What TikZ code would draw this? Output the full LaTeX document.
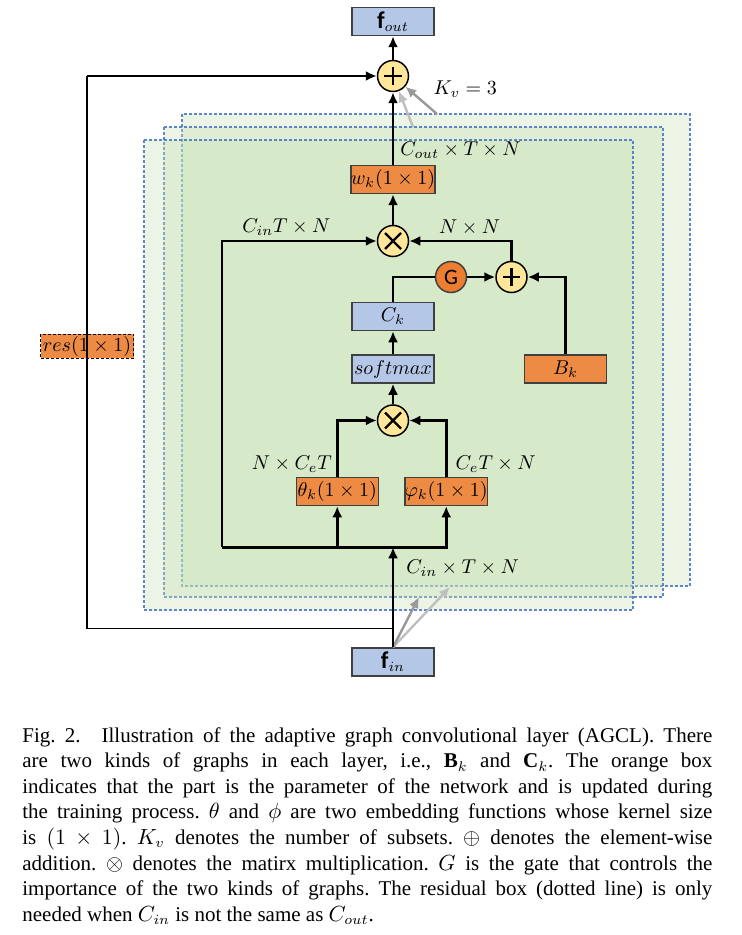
\documentclass[tikz,border=0pt]{standalone}
\usepackage{amsmath}
\usepackage{fontspec}
\setmainfont{Liberation Serif}
\newfontfamily\calibri{Carlito}
\usepackage{tikz}
\usetikzlibrary{positioning}
\usetikzlibrary{calc}
\usetikzlibrary{arrows.meta}

\definecolor{paramorange}{HTML}{ED8B45}
\definecolor{featblue}{HTML}{B4C7E7}
\definecolor{opyellow}{HTML}{FFE699}
\definecolor{gateorange}{HTML}{ED7D31}
\definecolor{panelgreen}{HTML}{C6E0B4}
\definecolor{panelblue}{HTML}{4472C4}
\definecolor{boxedge}{HTML}{404040}

\begin{document}
\begin{tikzpicture}[
      x=0.5pt, y=-0.5pt,
      >={Latex[length=5.5pt,width=5pt]},
      param/.style={draw=boxedge,line width=0.75pt,fill=paramorange,minimum width=41pt,minimum height=14pt,inner sep=0pt,font=\normalsize},
      feat/.style={param,fill=featblue},
      opnode/.style={draw,circle,line width=0.75pt,fill=opyellow,minimum size=15.5pt,inner sep=0pt},
      plusop/.style={opnode,path picture={\draw[line width=1.1pt] (path picture bounding box.center) ++(-4.3pt,0pt) -- ++(8.6pt,0pt)
          (path picture bounding box.center) ++(0pt,-4.3pt) -- ++(0pt,8.6pt);}},
      multop/.style={opnode,path picture={\draw[line width=1.1pt] (path picture bounding box.center) ++(-4pt,-4pt) -- ++(8pt,8pt)
          (path picture bounding box.center) ++(-4pt,4pt) -- ++(8pt,-8pt);}},
      gate/.style={draw=boxedge,circle,line width=0.75pt,fill=gateorange,minimum size=15.5pt,inner sep=0pt,font=\calibri\fontsize{11}{12}\selectfont},
      resnode/.style={draw=black,line width=0.7pt,dash pattern=on 1.5pt off 1pt,fill=paramorange,minimum width=46.5pt,minimum height=12pt,inner sep=0pt,font=\normalsize},
      lbl/.style={inner sep=1pt},
      conn/.style={line width=1.35pt},
      thinconn/.style={line width=0.75pt},
      ghost/.style={line width=1.2pt,->},
      panel/.style={fill=panelgreen,fill opacity=0.35,draw=panelblue,draw opacity=0.85,line width=0.6pt,dash pattern=on 1.5pt off 1pt}
      ]

      \useasboundingbox (0,0) rectangle (741,935);

      % the K_v = 3 subsets
      \draw[panel] (182,114) rectangle (690,586);
      \draw[panel] (164,127) rectangle (663,597);
      \draw[panel] (144,140) rectangle (633,610);

      \node[feat] (fin) at (393,662) {{\calibri\large\bfseries f}$_{in}$};
      \coordinate[above=9.5pt of fin.north] (split);
      \coordinate[above=50pt of fin.north] (hub);
      \coordinate[left=85.5pt of hub] (hubL);

      \node[param, above left=20.5pt and 7pt of hub] (theta) {$\theta_k(1\times1)$};
      \node[param, above right=20.5pt and 5.5pt of hub] (phi) {$\varphi_k(1\times1)$};
      \node[multop, above=55.25pt of hub] (multB) {};
      \node[feat, above=10.25pt of multB] (softmax) {$softmax$};
      \node[feat, above=11.5pt of softmax] (Ck) {$C_k$};
      \node[multop, above=22.25pt of Ck] (multA) {};
      \node[param, above=15.25pt of multA] (wk) {$w_k(1\times1)$};
      \node[plusop, above=36.25pt of wk] (plusA) {};
      \node[feat, above=11.75pt of plusA] (fout) {{\calibri\large\bfseries f}$_{out}$};

      \node[gate] (G) at ($(multA)+(29pt,-18pt)$) {G};
      \node[plusop, right=14pt of G] (plusB) {};
      \node[param, right=44.5pt of softmax] (Bk) {$B_k$};

      \node[resnode] (res) at ($(split)+(-153pt,141pt)$) {$res(1\times1)$};
      \coordinate (corner) at (res |- plusA);

      \coordinate (kvA) at (437,114);
      \coordinate (kvB) at (413,127);
      \coordinate (subA) at (450,587);
      \coordinate (subB) at (419,597);

      \draw[ghost,draw=black!40,fill=black!40] (kvA) -- (plusA);
      \draw[ghost,draw=black!25,fill=black!25] (kvB) -- (plusA);
      \draw[ghost,draw=black!25,fill=black!25] (fin.north) -- (subA);
      \draw[ghost,draw=black!40,fill=black!40] (fin.north) -- (subB);

      \draw[conn,->] (fin) -- (hub);
      \draw[thinconn] (split) -| (corner);
      \draw[conn,->] (corner) -- (plusA);
      \draw[conn,->] (hubL) |- (multA);
      \draw[conn,->] (hubL) -| (phi);
      \draw[conn,->] (hubL -| theta) -- (theta);
      \draw[conn,->] (theta) |- (multB);
      \draw[conn,->] (phi) |- (multB);
      \draw[conn,->] (multB) -- (softmax);
      \draw[conn,->] (softmax) -- (Ck);
      \draw[conn] (Ck) |- (G);
      \draw[conn,->] (G) -- (plusB);
      \draw[conn,->] (Bk) |- (plusB);
      \draw[conn,->] (plusB) |- (multA);
      \draw[conn,->] (multA) -- (wk);
      \draw[conn,->] (wk) -- (plusA);
      \draw[conn,->] (plusA) -- (fout);

      \node[lbl, above right=2pt and 2.5pt of wk.north] {$C_{out}\times T\times N$};
      \node[lbl, above left=1.5pt and 22pt of multA.west] {$C_{in}T\times N$};
      \node[lbl, above right=1.5pt and 13.75pt of multA.east] {$N\times N$};
      \node[lbl, below right=1pt and 11pt of plusA.east] {$K_v=3$};
      \node[lbl, above left=1pt and 1.5pt of theta.north] {$N\times C_eT$};
      \node[lbl, above right=1pt and 3.5pt of phi.north] {$C_eT\times N$};
      \node[lbl, below right=5pt and 5.5pt of hub] {$C_{in}\times T\times N$};

      \node[anchor=north west, text width=345pt, align=justify, inner sep=0pt,
            font=\fontsize{10.5}{12.8}\selectfont\frenchspacing] (caption) at (22,727)
        {Fig.~2.\hspace{1em}Illustration of the adaptive graph convolutional layer (AGCL). There\linebreak
         are two kinds of graphs in each layer, i.e., $\mathbf{B}_k$ and $\mathbf{C}_k$. The orange box\linebreak
         indicates that the part is the parameter of the network and is updated during\linebreak
         the training process. $\theta$ and $\phi$ are two embedding functions whose kernel size\linebreak
         is $(1\times1)$. $K_v$ denotes the number of subsets. $\oplus$ denotes the element-wise\linebreak
         addition. $\otimes$ denotes the matirx multiplication. $G$ is the gate that controls the\linebreak
         importance of the two kinds of graphs. The residual box (dotted line) is only\linebreak
         needed when $C_{in}$ is not the same as $C_{out}$.};
    \end{tikzpicture}
\end{document}
